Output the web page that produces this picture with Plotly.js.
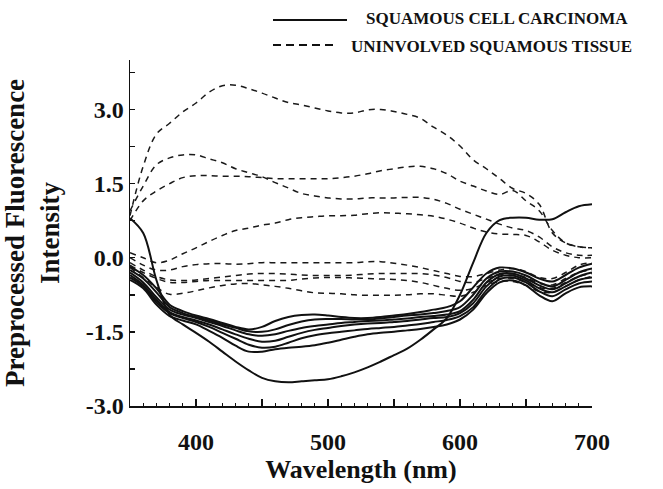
<!DOCTYPE html>
<html>
<head>
<meta charset="utf-8">
<script src="https://cdn.plot.ly/plotly-3.0.1.min.js"></script>
<style>html,body{margin:0;padding:0;background:#fff;}#chart{width:663px;height:489px;}</style>
</head>
<body>
<div id="chart"></div>
<script>
// Wavelength grid (nm)
var wavelength = [350,360,370,380,390,400,410,420,430,440,450,460,470,480,490,500,510,520,530,540,550,560,570,580,590,600,610,620,630,640,650,660,670,680,690,700];

// Squamous cell carcinoma spectra (solid)
var scc1 = [0.8,0.5,-0.45,-1.15,-1.35,-1.52,-1.7,-1.9,-2.1,-2.28,-2.43,-2.5,-2.52,-2.5,-2.48,-2.46,-2.4,-2.32,-2.22,-2.1,-1.97,-1.84,-1.66,-1.45,-1.22,-0.75,-0.1,0.5,0.76,0.81,0.81,0.77,0.78,0.92,1.04,1.08];
var scc2 = [-0.18,-0.35,-0.62,-0.95,-1.08,-1.17,-1.24,-1.32,-1.4,-1.45,-1.4,-1.28,-1.2,-1.16,-1.15,-1.17,-1.2,-1.22,-1.22,-1.2,-1.17,-1.14,-1.1,-1.05,-1.0,-0.88,-0.6,-0.32,-0.2,-0.22,-0.3,-0.42,-0.48,-0.35,-0.2,-0.12];
var scc3 = [-0.25,-0.42,-0.7,-1.0,-1.12,-1.2,-1.27,-1.35,-1.42,-1.49,-1.5,-1.45,-1.36,-1.29,-1.25,-1.24,-1.24,-1.25,-1.25,-1.23,-1.2,-1.17,-1.15,-1.12,-1.08,-1.0,-0.75,-0.42,-0.28,-0.28,-0.36,-0.5,-0.58,-0.45,-0.3,-0.22];
var scc4 = [-0.3,-0.5,-0.8,-1.05,-1.15,-1.22,-1.3,-1.38,-1.47,-1.55,-1.58,-1.55,-1.48,-1.42,-1.38,-1.35,-1.32,-1.3,-1.28,-1.27,-1.25,-1.23,-1.2,-1.18,-1.15,-1.08,-0.85,-0.5,-0.33,-0.32,-0.42,-0.56,-0.64,-0.52,-0.38,-0.3];
var scc5 = [-0.35,-0.55,-0.85,-1.1,-1.2,-1.27,-1.35,-1.45,-1.55,-1.64,-1.7,-1.68,-1.6,-1.52,-1.46,-1.42,-1.38,-1.35,-1.33,-1.32,-1.3,-1.28,-1.25,-1.22,-1.2,-1.12,-0.92,-0.58,-0.38,-0.36,-0.46,-0.62,-0.7,-0.58,-0.45,-0.4];
var scc6 = [-0.4,-0.58,-0.9,-1.12,-1.22,-1.3,-1.4,-1.52,-1.64,-1.76,-1.82,-1.8,-1.72,-1.63,-1.57,-1.53,-1.5,-1.47,-1.44,-1.42,-1.4,-1.37,-1.34,-1.3,-1.26,-1.18,-1.0,-0.66,-0.44,-0.4,-0.5,-0.68,-0.78,-0.64,-0.52,-0.48];
var scc7 = [-0.45,-0.62,-0.95,-1.18,-1.27,-1.35,-1.48,-1.62,-1.78,-1.9,-1.9,-1.85,-1.82,-1.8,-1.77,-1.72,-1.66,-1.6,-1.55,-1.52,-1.5,-1.47,-1.44,-1.4,-1.35,-1.25,-1.05,-0.72,-0.5,-0.46,-0.56,-0.76,-0.88,-0.72,-0.6,-0.58];

// Uninvolved squamous tissue spectra (dashed)
var normal1 = [0.85,1.85,2.5,2.72,2.95,3.13,3.35,3.48,3.49,3.42,3.33,3.23,3.14,3.09,3.03,2.97,2.93,2.93,2.99,3.0,2.96,2.9,2.82,2.64,2.48,2.26,1.98,1.8,1.6,1.4,1.3,1.08,0.5,0.3,0.22,0.2];
var normal2 = [0.95,1.45,1.88,2.02,2.08,2.08,2.0,1.92,1.8,1.72,1.64,1.52,1.41,1.3,1.25,1.21,1.19,1.19,1.21,1.21,1.21,1.22,1.22,1.18,1.1,0.98,0.88,0.78,0.68,0.6,0.55,0.42,0.22,0.1,0.05,0.05];
var normal3 = [0.75,1.15,1.35,1.5,1.62,1.66,1.66,1.65,1.65,1.64,1.62,1.6,1.6,1.6,1.6,1.6,1.62,1.65,1.7,1.76,1.8,1.84,1.85,1.8,1.7,1.55,1.45,1.35,1.28,1.36,1.15,0.95,0.55,0.3,0.22,0.2];
var normal4 = [0.1,0.0,-0.1,-0.05,0.08,0.2,0.33,0.45,0.55,0.6,0.66,0.7,0.77,0.81,0.83,0.85,0.85,0.86,0.89,0.91,0.9,0.89,0.87,0.84,0.78,0.7,0.6,0.52,0.48,0.47,0.45,0.32,0.15,0.05,0.0,0.0];
var normal5 = [0.0,-0.15,-0.25,-0.25,-0.18,-0.14,-0.12,-0.12,-0.13,-0.12,-0.1,-0.1,-0.1,-0.1,-0.1,-0.1,-0.1,-0.1,-0.08,-0.08,-0.11,-0.15,-0.2,-0.26,-0.32,-0.38,-0.38,-0.32,-0.25,-0.22,-0.28,-0.4,-0.42,-0.3,-0.15,-0.1];
var normal6 = [-0.1,-0.25,-0.38,-0.45,-0.46,-0.45,-0.42,-0.39,-0.36,-0.33,-0.32,-0.32,-0.33,-0.35,-0.36,-0.36,-0.36,-0.35,-0.33,-0.32,-0.32,-0.32,-0.32,-0.35,-0.4,-0.48,-0.5,-0.42,-0.35,-0.33,-0.4,-0.52,-0.55,-0.42,-0.3,-0.25];
var normal7 = [-0.15,-0.3,-0.42,-0.5,-0.5,-0.48,-0.46,-0.46,-0.46,-0.46,-0.46,-0.46,-0.46,-0.43,-0.41,-0.4,-0.4,-0.41,-0.42,-0.43,-0.44,-0.46,-0.5,-0.56,-0.62,-0.66,-0.62,-0.5,-0.42,-0.42,-0.5,-0.6,-0.62,-0.5,-0.38,-0.32];
var normal8 = [-0.2,-0.4,-0.6,-0.74,-0.72,-0.67,-0.61,-0.56,-0.53,-0.52,-0.55,-0.58,-0.62,-0.67,-0.71,-0.72,-0.73,-0.75,-0.76,-0.76,-0.76,-0.75,-0.73,-0.73,-0.76,-0.78,-0.7,-0.56,-0.48,-0.48,-0.56,-0.68,-0.7,-0.58,-0.45,-0.38];

// Axis tick labels
var xTickVals = [400,450,500,550,600,650,700];
var xTickText = ['400','','500','','600','','700'];
var yTickVals = [-3,-2.25,-1.5,-0.75,0,0.75,1.5,2.25,3,3.75];
var yTickText = ['-3.0','','-1.5','','0.0','','1.5','','3.0',''];

var legendLabels = ['SQUAMOUS CELL CARCINOMA', 'UNINVOLVED SQUAMOUS TISSUE'];

var sccSeries = [scc1, scc2, scc3, scc4, scc5, scc6, scc7];
var normalSeries = [normal1, normal2, normal3, normal4, normal5, normal6, normal7, normal8];

var SERIF = 'Liberation Serif, Times New Roman, serif';
var traces = [];
normalSeries.forEach(function (ys) {
  traces.push({x: wavelength, y: ys, type: 'scatter', mode: 'lines',
    line: {color: '#1a1a1a', width: 1.5, dash: '6px,5px', shape: 'spline', smoothing: 1},
    hoverinfo: 'skip', showlegend: false});
});
sccSeries.forEach(function (ys) {
  traces.push({x: wavelength, y: ys, type: 'scatter', mode: 'lines',
    line: {color: '#111', width: 2, shape: 'spline', smoothing: 1},
    hoverinfo: 'skip', showlegend: false});
});

var W = 663, H = 489, ML = 130, MR = 71, MT = 60, MB = 83;
var pw = W - ML - MR, ph = H - MT - MB;
function px(x) { return (x - ML) / pw; }
function py(y) { return (H - MB - y) / ph; }

var layout = {
  width: W, height: H,
  margin: {l: ML, r: MR, t: MT, b: MB, pad: 0},
  paper_bgcolor: '#fff', plot_bgcolor: '#fff',
  showlegend: false,
  font: {family: SERIF, color: '#111'},
  xaxis: {
    range: [350, 700], automargin: false,
    showline: true, linecolor: '#111', linewidth: 1.5, mirror: false,
    showgrid: false, zeroline: false,
    ticks: 'inside', ticklen: 7, tickwidth: 1.5, tickcolor: '#111',
    tickmode: 'array', tickvals: xTickVals, ticktext: xTickText,
    minor: {ticks: 'inside', tick0: 350, dtick: 10, ticklen: 3, tickwidth: 1, tickcolor: '#111', showgrid: false},
    tickfont: {family: SERIF, size: 24, color: '#111', weight: 'bold'},
    ticklabelstandoff: 14,
    title: {text: 'Wavelength (nm)', font: {family: SERIF, size: 26, color: '#111', weight: 'bold'}, standoff: 5}
  },
  yaxis: {
    range: [-3, 4], automargin: false,
    showline: true, linecolor: '#111', linewidth: 1.5, mirror: false,
    showgrid: false, zeroline: false,
    ticks: 'inside', ticklen: 5, tickwidth: 1.5, tickcolor: '#111',
    tickmode: 'array', tickvals: yTickVals, ticktext: yTickText,
    tickfont: {family: SERIF, size: 24, color: '#111', weight: 'bold'},
    title: {text: 'Preprocessed Fluorescence<br>Intensity', font: {family: SERIF, size: 27, color: '#111', weight: 'bold'}, standoff: 20}
  },
  shapes: [
    {type: 'line', xref: 'paper', yref: 'paper', x0: px(273), x1: px(347), y0: py(20), y1: py(20),
     line: {color: '#111', width: 2}},
    {type: 'line', xref: 'paper', yref: 'paper', x0: px(273), x1: px(335), y0: py(45), y1: py(45),
     line: {color: '#111', width: 2, dash: '8px,5px'}}
  ],
  annotations: [
    {xref: 'paper', yref: 'paper', x: px(364), y: py(19), xanchor: 'left', yanchor: 'middle', showarrow: false,
     text: legendLabels[0], font: {family: SERIF, size: 17, color: '#111', weight: 'bold'}},
    {xref: 'paper', yref: 'paper', x: px(349), y: py(46), xanchor: 'left', yanchor: 'middle', showarrow: false,
     text: legendLabels[1], font: {family: SERIF, size: 17, color: '#111', weight: 'bold'}}
  ]
};

Plotly.newPlot('chart', traces, layout, {staticPlot: true, displayModeBar: false});
</script>
</body>
</html>
